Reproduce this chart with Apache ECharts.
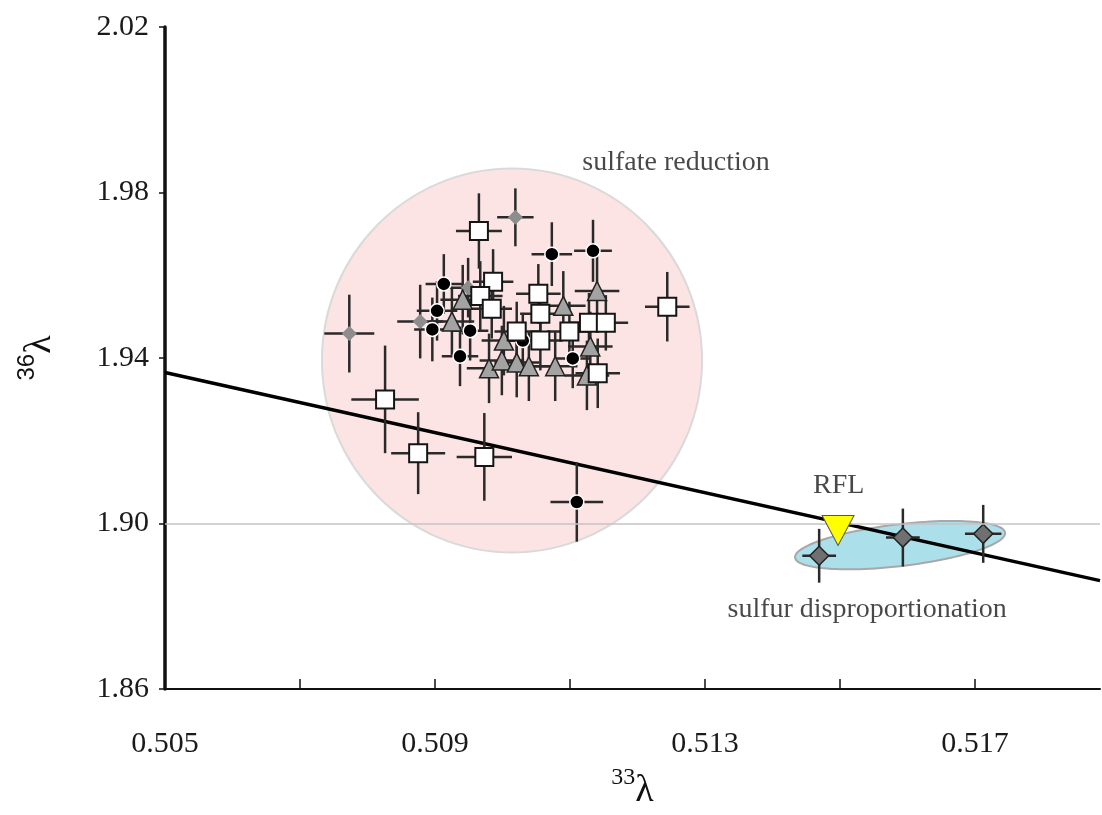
<!DOCTYPE html>
<html>
<head>
<meta charset="utf-8">
<script src="https://cdn.jsdelivr.net/npm/echarts@6/dist/echarts.min.js"></script>
<style>
  html, body { margin: 0; padding: 0; background: #ffffff; }
  #chart { width: 1102px; height: 815px; }
</style>
</head>
<body>
<div id="chart"></div>
<script>
// ---- data: [x (33λ), y (36λ), x error, y error] ----
const squares = [
  [0.50965, 1.9707, 0.00034, 0.0091],
  [0.50986, 1.9584, 0.00030, 0.0079],
  [0.50967, 1.9550, 0.00033, 0.0084],
  [0.50984, 1.9519, 0.00030, 0.0072],
  [0.51053, 1.9555, 0.00033, 0.0072],
  [0.51056, 1.9507, 0.00030, 0.0067],
  [0.51021, 1.9464, 0.00033, 0.0072],
  [0.51056, 1.9442, 0.00033, 0.0072],
  [0.51099, 1.9464, 0.00033, 0.0072],
  [0.51128, 1.9485, 0.00030, 0.0072],
  [0.51153, 1.9485, 0.00033, 0.0067],
  [0.51141, 1.9363, 0.00033, 0.0084],
  [0.51244, 1.9524, 0.00033, 0.0084],
  [0.50826, 1.9300, 0.00050, 0.0130],
  [0.50875, 1.9170, 0.00040, 0.0099],
  [0.50973, 1.9161, 0.00041, 0.0106]
];
const circles = [
  [0.50913, 1.9579, 0.00027, 0.0072],
  [0.50903, 1.9514, 0.00030, 0.0072],
  [0.50896, 1.9469, 0.00027, 0.0077],
  [0.50952, 1.9466, 0.00027, 0.0072],
  [0.50937, 1.9404, 0.00027, 0.0072],
  [0.51073, 1.9651, 0.00030, 0.0077],
  [0.51134, 1.9659, 0.00028, 0.0075],
  [0.51104, 1.9399, 0.00027, 0.0072],
  [0.51030, 1.9442, 0.00027, 0.0067],
  [0.51110, 1.9052, 0.00039, 0.0096]
];
const triangles = [
  [0.50941, 1.9541, 0.00033, 0.0084],
  [0.50925, 1.9488, 0.00033, 0.0084],
  [0.51002, 1.9442, 0.00033, 0.0084],
  [0.50980, 1.9375, 0.00033, 0.0084],
  [0.50999, 1.9394, 0.00033, 0.0084],
  [0.51021, 1.9389, 0.00033, 0.0084],
  [0.51039, 1.9380, 0.00033, 0.0084],
  [0.51078, 1.9380, 0.00033, 0.0084],
  [0.51090, 1.9526, 0.00033, 0.0084],
  [0.51140, 1.9562, 0.00033, 0.0084],
  [0.51130, 1.9428, 0.00033, 0.0084],
  [0.51125, 1.9358, 0.00033, 0.0084]
];
const lightDiamonds = [
  [0.50773, 1.9459, 0.00037, 0.0094],
  [0.50878, 1.9488, 0.00034, 0.0089],
  [0.51019, 1.9740, 0.00027, 0.0070],
  [0.50949, 1.9570, 0.00030, 0.0072]
];
const dispDiamonds = [
  [0.51469, 1.8922, 0.00025, 0.0065],
  [0.51593, 1.8966, 0.00025, 0.0070],
  [0.51712, 1.8975, 0.00027, 0.0070]
];
const rfl = [[0.51497, 1.8983]];
const fitLine = [[0.505, 1.9365], [0.51885, 1.8862]];
// pink region: [centre x, centre y, radius x, radius y]
const sulfateRegion = [[0.51014, 1.9394, 0.002815, 0.0464]];
// blue region: [end1 x, end1 y, end2 x, end2 y, half width (y units)]
const dispRegion = [[0.514333, 1.89176, 0.517444, 1.89778, 0.00505]];
const refX = 0.515, refY = 1.90;
const xTickLabels = ['0.505', '0.509', '0.513', '0.517'];
const yTickLabels = ['1.86', '1.90', '1.94', '1.98', '2.02'];
const annotations = [
  ['sulfate reduction', 0.51257, 1.9873],
  ['sulfur disproportionation', 0.5154, 1.8793],
  ['RFL', 0.51498, 1.9091]
];

const FONT = 'Liberation Serif';

function errRender(params, api) {
  const x = api.value(0), y = api.value(1), ex = api.value(2), ey = api.value(3);
  const l = api.coord([x - ex, y]), r = api.coord([x + ex, y]);
  const t = api.coord([x, y + ey]), b = api.coord([x, y - ey]);
  const st = { stroke: '#2a2a2a', lineWidth: 2.5 };
  return { type: 'group', children: [
    { type: 'line', shape: { x1: l[0], y1: l[1], x2: r[0], y2: r[1] }, style: st },
    { type: 'line', shape: { x1: t[0], y1: t[1], x2: b[0], y2: b[1] }, style: st }
  ]};
}
function errSeries(data) {
  return { type: 'custom', data: data, renderItem: errRender, encode: { x: 0, y: 1 }, z: 3, silent: true, clip: false };
}

const chart = echarts.init(document.getElementById('chart'), null, { renderer: 'canvas' });
chart.setOption({
  backgroundColor: '#ffffff',
  animation: false,
  grid: { left: 165, right: 2, top: 27, bottom: 123 },
  xAxis: {
    type: 'value', min: 0.505, max: 0.51885, interval: 0.002,
    name: '{s|33}{l|λ}', nameLocation: 'middle', nameGap: 77,
    nameTextStyle: { rich: {
      s: { fontFamily: FONT, fontSize: 24, color: '#111', verticalAlign: 'top', lineHeight: 44 },
      l: { fontFamily: FONT, fontSize: 38, color: '#111', verticalAlign: 'bottom', lineHeight: 44 }
    }},
    axisLine: { show: true, lineStyle: { color: '#111', width: 2 } },
    axisTick: { show: true, inside: true, length: 10, lineStyle: { color: '#111', width: 1.5 } },
    axisLabel: {
      fontFamily: FONT, fontSize: 30, color: '#1a1a1a', margin: 40,
      showMaxLabel: false,
      formatter: function (v) {
        const s = v.toFixed(3);
        return xTickLabels.indexOf(s) >= 0 ? s : '';
      }
    },
    splitLine: { show: false }
  },
  yAxis: {
    type: 'value', min: 1.86, max: 2.02, interval: 0.04,
    name: '{s|36}{l|λ}', nameLocation: 'middle', nameGap: 106,
    nameTextStyle: { rich: {
      s: { fontFamily: 'Liberation Sans', fontSize: 24, color: '#111', verticalAlign: 'top', lineHeight: 44 },
      l: { fontFamily: FONT, fontSize: 38, color: '#111', verticalAlign: 'bottom', lineHeight: 44 }
    }},
    axisLine: { show: true, lineStyle: { color: '#111', width: 3.5 } },
    axisTick: { show: true, inside: false, length: 6, lineStyle: { color: '#111', width: 1.5 } },
    axisLabel: {
      fontFamily: FONT, fontSize: 30, color: '#1a1a1a', margin: 16,
      formatter: function (v) {
        const s = v.toFixed(2);
        return yTickLabels.indexOf(s) >= 0 ? s : '';
      }
    },
    splitLine: { show: false }
  },
  series: [
    {
      type: 'custom', data: sulfateRegion, encode: { x: 0, y: 1 }, z: 1, silent: true,
      renderItem: function (params, api) {
        const c = api.coord([api.value(0), api.value(1)]);
        const s = api.size([api.value(2), api.value(3)]);
        return { type: 'ellipse', shape: { cx: c[0], cy: c[1], rx: s[0], ry: s[1] },
          style: { fill: '#fde4e4', stroke: '#dadada', lineWidth: 2 } };
      }
    },
    {
      type: 'custom', data: dispRegion, encode: { x: [0, 2], y: [1, 3] }, z: 1, silent: true,
      renderItem: function (params, api) {
        const p1 = api.coord([api.value(0), api.value(1)]);
        const p2 = api.coord([api.value(2), api.value(3)]);
        const cx = (p1[0] + p2[0]) / 2, cy = (p1[1] + p2[1]) / 2;
        const a = Math.hypot(p2[0] - p1[0], p2[1] - p1[1]) / 2;
        const th = Math.atan2(p2[1] - p1[1], p2[0] - p1[0]);
        const b = api.size([0, api.value(4)])[1];
        const pts = [];
        for (let i = 0; i < 120; i++) {
          const f = i / 120 * Math.PI * 2;
          pts.push([cx + a * Math.cos(th) * Math.cos(f) - b * Math.sin(th) * Math.sin(f),
                    cy + a * Math.sin(th) * Math.cos(f) + b * Math.cos(th) * Math.sin(f)]);
        }
        return { type: 'polygon', shape: { points: pts },
          style: { fill: '#abdfea', stroke: '#a8a8a8', lineWidth: 2 } };
      }
    },
    {
      type: 'line', data: fitLine, symbol: 'none', z: 2, silent: true,
      lineStyle: { color: '#000', width: 3.5 },
      markLine: {
        silent: true, symbol: 'none', label: { show: false },
        lineStyle: { color: '#c4c4c4', width: 1.5, type: 'solid' },
        data: [{ xAxis: refX }, { yAxis: refY }]
      }
    },
    errSeries(lightDiamonds),
    errSeries(circles),
    errSeries(triangles),
    errSeries(squares),
    errSeries(dispDiamonds),
    {
      type: 'scatter', data: lightDiamonds, symbol: 'diamond', symbolSize: 15, z: 4,
      itemStyle: { color: '#8d8d8d', opacity: 1 }
    },
    {
      type: 'scatter', data: circles, symbol: 'circle', symbolSize: 14, z: 4,
      itemStyle: { color: '#000', borderColor: '#fff', borderWidth: 1.5, opacity: 1 }
    },
    {
      type: 'scatter', data: triangles, symbol: 'triangle', symbolSize: 19, z: 4,
      itemStyle: { color: '#a3a3a3', borderColor: '#222', borderWidth: 1.5, opacity: 1 }
    },
    {
      type: 'scatter', data: squares, symbol: 'rect', symbolSize: 18, z: 4,
      itemStyle: { color: '#fff', borderColor: '#151515', borderWidth: 2, opacity: 1 }
    },
    {
      type: 'scatter', data: dispDiamonds, symbol: 'diamond', symbolSize: 19, z: 4,
      itemStyle: { color: '#707070', borderColor: '#222', borderWidth: 1.5, opacity: 1 }
    },
    {
      type: 'scatter', data: rfl, symbol: 'triangle', symbolRotate: 180, symbolSize: [32, 30], z: 5,
      itemStyle: { color: '#ffff00', borderColor: '#555', borderWidth: 1, opacity: 1 }
    },
    {
      type: 'scatter', z: 6, symbolSize: 0, silent: true,
      data: annotations.map(function (a) { return { name: a[0], value: [a[1], a[2]] }; }),
      label: { show: true, position: 'inside', formatter: '{b}',
        fontFamily: FONT, fontSize: 28, color: '#1a1a1a' }
    }
  ]
});
</script>
</body>
</html>
